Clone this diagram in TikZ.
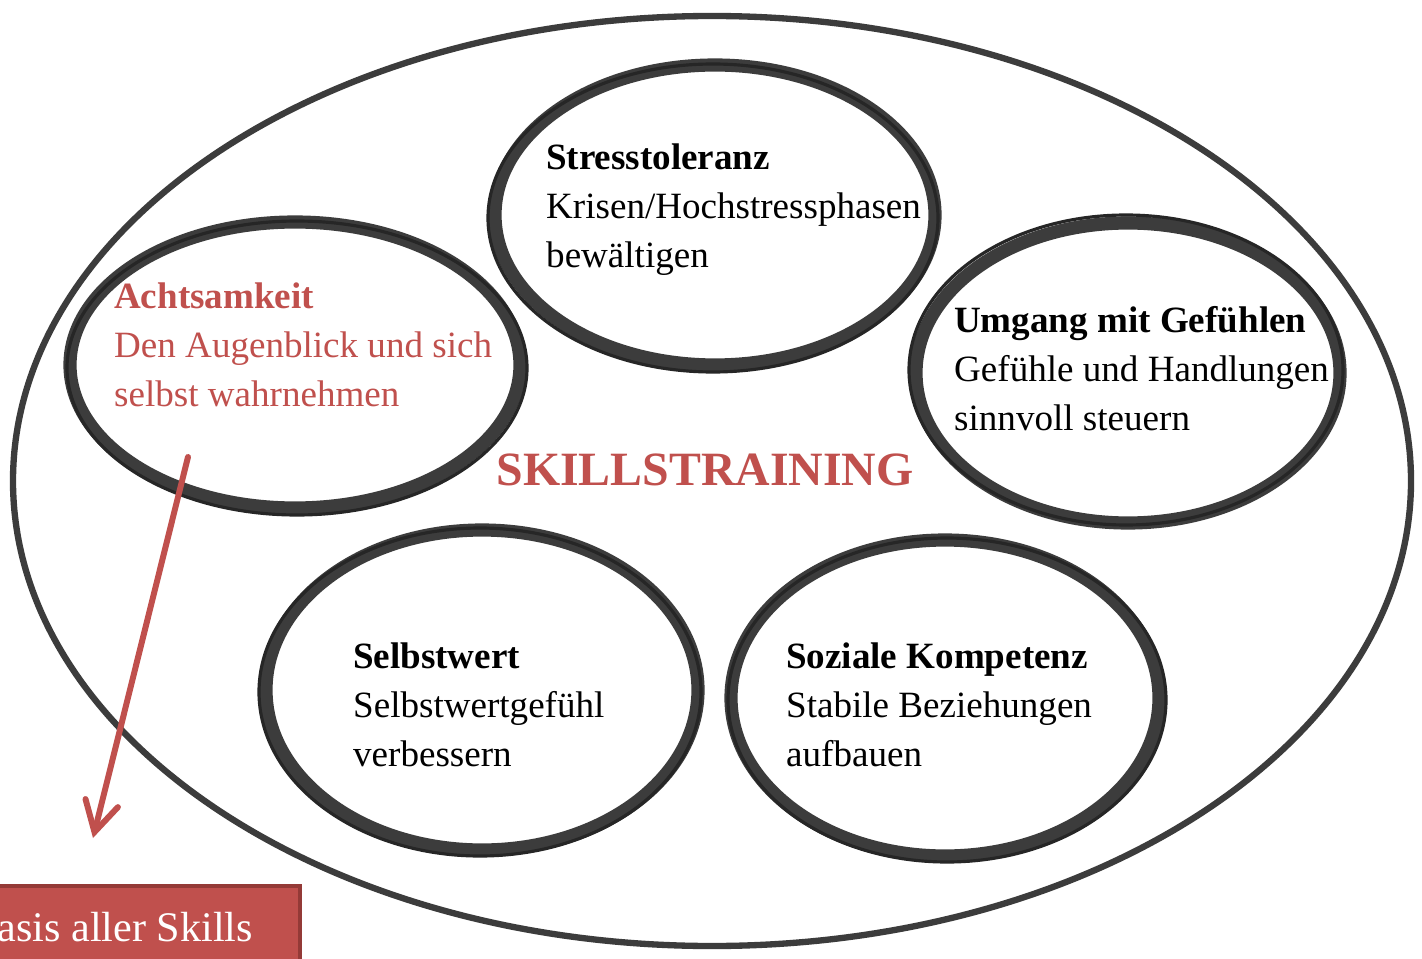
\documentclass[tikz,border=0pt]{standalone}
\usepackage{fontspec}
\setmainfont{Liberation Serif}
\usetikzlibrary{arrows.meta}
\definecolor{skillred}{HTML}{C0504D}
\definecolor{boxedge}{HTML}{943A37}
\definecolor{penink}{HTML}{3C3C3C}

\begin{document}
\begin{tikzpicture}[x=0.02cm,y=-0.02cm,
    ring/.style={draw=penink,line width=7.5pt},
    ringedge/.style={draw=black!85,line width=1.8pt},
    skilltext/.style={draw=none,anchor=west,align=left,font=\fontsize{21.1}{27.9}\selectfont},
    basisbox/.style={draw=boxedge,fill=skillred,line width=2.3pt,text=white,
      font=\fontsize{24}{28}\selectfont,inner xsep=0.94cm,minimum height=1.64cm}]
  \useasboundingbox (0,0) rectangle (1422,959);
  \fill[white] (0,0) rectangle (1422,959);

  % outer ring
  \draw[draw=penink,line width=3.6pt] (712,481) ellipse [x radius=699, y radius=465];

  % the five skill rings
  \draw[ring] (715,215) ellipse [x radius=220, y radius=150];
  \draw[ringedge] (713,218) ellipse [x radius=225, y radius=154];
  \draw[ring] (295,365) ellipse [x radius=225, y radius=143];
  \draw[ringedge] (297,368) ellipse [x radius=230, y radius=147];
  \draw[ring] (1128,373) ellipse [x radius=212, y radius=150];
  \draw[ringedge] (1126,370) ellipse [x radius=217, y radius=155];
  \draw[ring] (482,690) ellipse [x radius=216, y radius=160];
  \draw[ringedge] (480,692) ellipse [x radius=221, y radius=164];
  \draw[ring] (945,698) ellipse [x radius=214, y radius=158];
  \draw[ringedge] (947,700) ellipse [x radius=219, y radius=162];

  \node[skilltext] (stress) at (540,210) {\textbf{Stresstoleranz}\\Krisen/Hochstressphasen\\bewältigen};
  \node[skilltext,text=skillred] (achtsam) at (108,345) {\textbf{Achtsamkeit}\\Den Augenblick und sich\\selbst wahrnehmen};
  \node[skilltext] (gefuehle) at (948,369) {\textbf{Umgang mit Gefühlen}\\Gefühle und Handlungen\\sinnvoll steuern};
  \node[skilltext] (selbstwert) at (347,705) {\textbf{Selbstwert}\\Selbstwertgefühl\\verbessern};
  \node[skilltext] (sozial) at (780,705) {\textbf{Soziale Kompetenz}\\Stabile Beziehungen\\aufbauen};

  \node[draw=none,text=skillred,font=\fontsize{27.2}{32}\selectfont\bfseries] (title) at (705,470) {SKILLSTRAINING};

  \node[basisbox,anchor=east] (basis) at (302,927) {asis aller Skills};

  \coordinate (arrowstart) at (188,457);
  \coordinate (arrowend) at (93,838);
  \draw[skillred,line width=3.4pt,line cap=round,-{Straight Barb[length=17pt,width=19pt,line cap=round]}] (arrowstart) -- (arrowend);
\end{tikzpicture}
\end{document}
